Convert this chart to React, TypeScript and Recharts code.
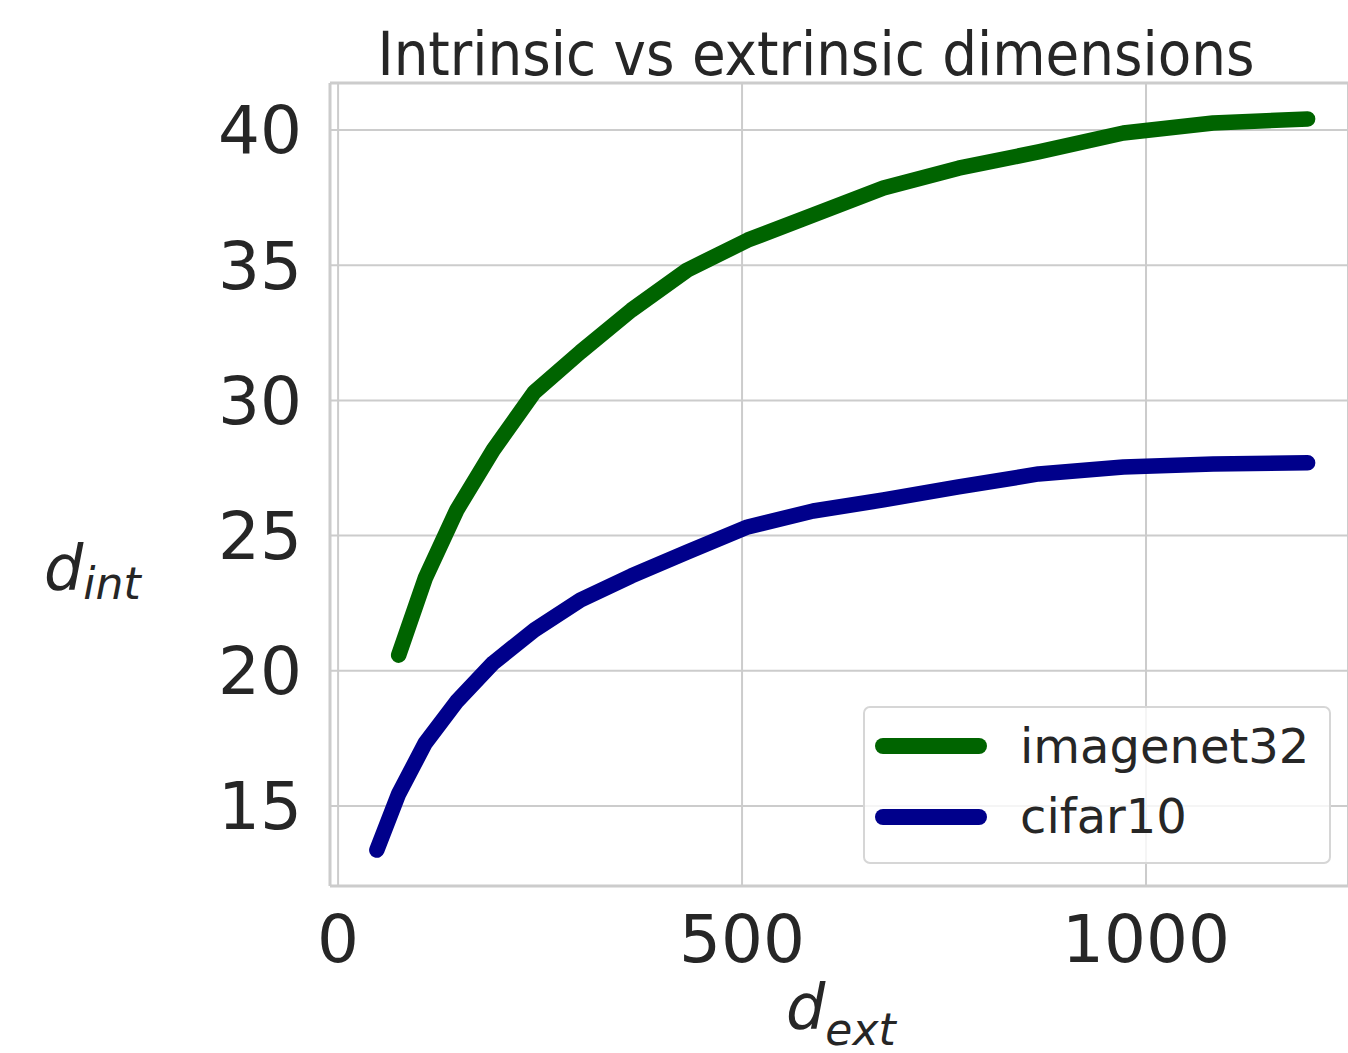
import { LineChart, Line, XAxis, YAxis, CartesianGrid, ReferenceLine } from "recharts";

const dExt = [48, 75, 108, 147, 192, 243, 300, 363, 432, 507, 588, 675, 768, 867, 972, 1083, 1200];
const imagenet32 = [null, 20.58, 23.43, 25.95, 28.17, 30.31, 31.79, 33.34, 34.82, 35.93, 36.86, 37.86, 38.59, 39.19, 39.89, 40.26, 40.41];
const cifar10 = [13.37, 15.45, 17.33, 18.87, 20.29, 21.51, 22.62, 23.51, 24.39, 25.32, 25.91, 26.32, 26.8, 27.28, 27.54, 27.65, 27.69];
const xTicks = [0, 500, 1000];
const yTicks = [15, 20, 25, 30, 35, 40];

const seriesNames = ["imagenet32", "cifar10"];
const seriesColors = ["#006400", "#00008b"];

const X_MIN = -10;
const X_MAX = 1250;
const Y_MIN = 12.04;
const Y_MAX = 41.74;

const data = dExt.map((x, i) => ({ x, imagenet32: imagenet32[i], cifar10: cifar10[i] }));

const GRID = "#cccccc";
const TEXT = "#262626";
const FONT = "'DejaVu Sans', sans-serif";

export default function App() {
  return (
    <div style={{ position: "absolute", left: 0, top: 0, width: 1348, height: 1053, background: "#fff" }}>
      <LineChart width={1348} height={1053} data={data} margin={{ top: 83, right: 0, bottom: 0, left: 0 }}>
        <CartesianGrid stroke={GRID} strokeWidth={2} />
        <XAxis
          type="number"
          dataKey="x"
          domain={[X_MIN, X_MAX]}
          ticks={xTicks}
          allowDataOverflow
          tickLine={false}
          tickSize={0}
          tickMargin={29}
          axisLine={{ stroke: GRID, strokeWidth: 3 }}
          tick={{ fontSize: 66, fill: TEXT, fontFamily: FONT }}
          height={167}
        />
        <YAxis
          type="number"
          domain={[Y_MIN, Y_MAX]}
          ticks={yTicks}
          allowDataOverflow
          tickLine={false}
          tickSize={0}
          tickMargin={28}
          axisLine={{ stroke: GRID, strokeWidth: 3 }}
          tick={{ fontSize: 66, fill: TEXT, fontFamily: FONT }}
          width={330}
        />
        <ReferenceLine y={Y_MAX} stroke={GRID} strokeWidth={3} ifOverflow="visible" />
        {seriesNames.map((name, i) => (
          <Line
            key={name}
            dataKey={name}
            name={name}
            stroke={seriesColors[i]}
            strokeWidth={15.5}
            strokeLinecap="round"
            strokeLinejoin="round"
            dot={false}
            activeDot={false}
            isAnimationActive={false}
          />
        ))}
      </LineChart>
      <svg width={1348} height={1053} style={{ position: "absolute", left: 0, top: 0, pointerEvents: "none" }}>
        <text x={816} y={75} textAnchor="middle" fontSize={60} fill={TEXT} fontFamily="'DejaVu Sans Condensed', 'DejaVu Sans', sans-serif" textLength={877} lengthAdjust="spacingAndGlyphs">
          Intrinsic vs extrinsic dimensions
        </text>
        <text x={44} y={589} fontSize={62} fill={TEXT} fontFamily={FONT} fontStyle="italic">
          d<tspan fontSize={44} dy={10}>int</tspan>
        </text>
        <text x={786} y={1028} fontSize={62} fill={TEXT} fontFamily={FONT} fontStyle="italic">
          d<tspan fontSize={44} dy={17}>ext</tspan>
        </text>
        <g transform="translate(863,706)">
          <rect x={1} y={1} width={466} height={156} rx={6} ry={6} fill="rgba(255,255,255,0.8)" stroke="#d6d6d6" strokeWidth={2} />
          {seriesNames.map((name, i) => (
            <g key={name}>
              <line x1={20} x2={116} y1={40 + i * 71} y2={40 + i * 71} stroke={seriesColors[i]} strokeWidth={16} strokeLinecap="round" />
              <text x={157} y={57 + i * 70} fontSize={48} fill={TEXT} fontFamily={FONT}>
                {name}
              </text>
            </g>
          ))}
        </g>
      </svg>
    </div>
  );
}
